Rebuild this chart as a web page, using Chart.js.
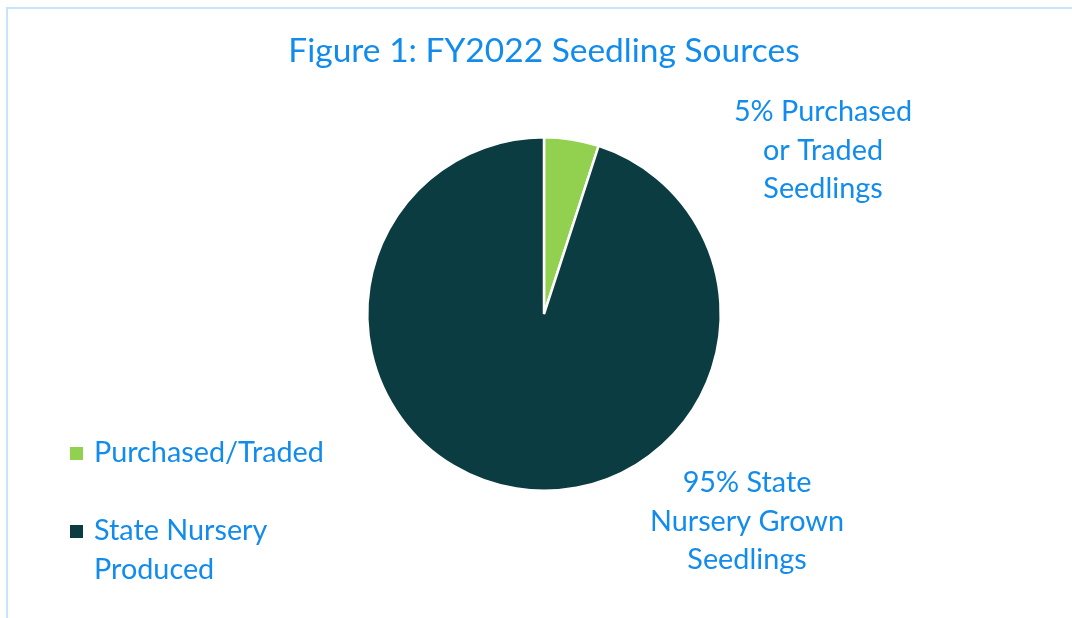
<!DOCTYPE html>
<html>
<head>
<meta charset="utf-8">
<script src="https://cdn.jsdelivr.net/npm/chart.js@4.4.1/dist/chart.umd.min.js"></script>
<style>
  html, body { margin: 0; padding: 0; background: #ffffff; }
  #wrap { width: 1072px; height: 618px; position: relative; }
</style>
</head>
<body>
<div id="wrap"><canvas id="c" width="1072" height="618"></canvas></div>
<script>
const titleText = 'Figure 1: FY2022 Seedling Sources';
const categories = ['Purchased/Traded', 'State Nursery Produced'];
const values = [5, 95];
const sliceColors = ['#92D050', '#0B3C41'];
const legendLines = [['Purchased/Traded'], ['State Nursery', 'Produced']];
const sliceLabels = [['5% Purchased', 'or Traded', 'Seedlings'], ['95% State', 'Nursery Grown', 'Seedlings']];

const FONT = 'Lato, "Open Sans", sans-serif';
const TEXT_COLOR = '#128CEC';

const decor = {
  id: 'decor',
  afterDraw(chart) {
    const ctx = chart.ctx;
    ctx.save();
    // frame
    ctx.strokeStyle = '#C8E4FA';
    ctx.lineWidth = 2;
    ctx.strokeRect(7, 8, 1100, 700);
    // title
    ctx.fillStyle = TEXT_COLOR;
    ctx.textAlign = 'center';
    ctx.textBaseline = 'alphabetic';
    ctx.font = '33.5px ' + FONT;
    ctx.fillText(titleText, 544, 62);
    // slice labels
    ctx.font = '28.8px ' + FONT;
    const anchors = [[823, 121], [747, 492]];
    sliceLabels.forEach((lines, i) => {
      lines.forEach((ln, j) => ctx.fillText(ln, anchors[i][0], anchors[i][1] + j * 38.5));
    });
    // legend
    ctx.textAlign = 'left';
    const legY = [462, 540];
    legendLines.forEach((lines, i) => {
      ctx.fillStyle = sliceColors[i];
      ctx.fillRect(70, legY[i] - 15, 13, 13);
      ctx.fillStyle = TEXT_COLOR;
      lines.forEach((ln, j) => ctx.fillText(ln, 94, legY[i] + j * 38.5));
    });
    ctx.restore();
  }
};

new Chart(document.getElementById('c'), {
  type: 'pie',
  data: {
    labels: categories,
    datasets: [{
      data: values,
      backgroundColor: sliceColors,
      borderColor: '#ffffff',
      borderWidth: 2.5
    }]
  },
  options: {
    responsive: false,
    animation: false,
    layout: { padding: { left: 366, right: 350, top: 136, bottom: 126 } },
    plugins: {
      legend: { display: false },
      title: { display: false },
      tooltip: { enabled: false }
    }
  },
  plugins: [decor]
});
</script>
</body>
</html>
